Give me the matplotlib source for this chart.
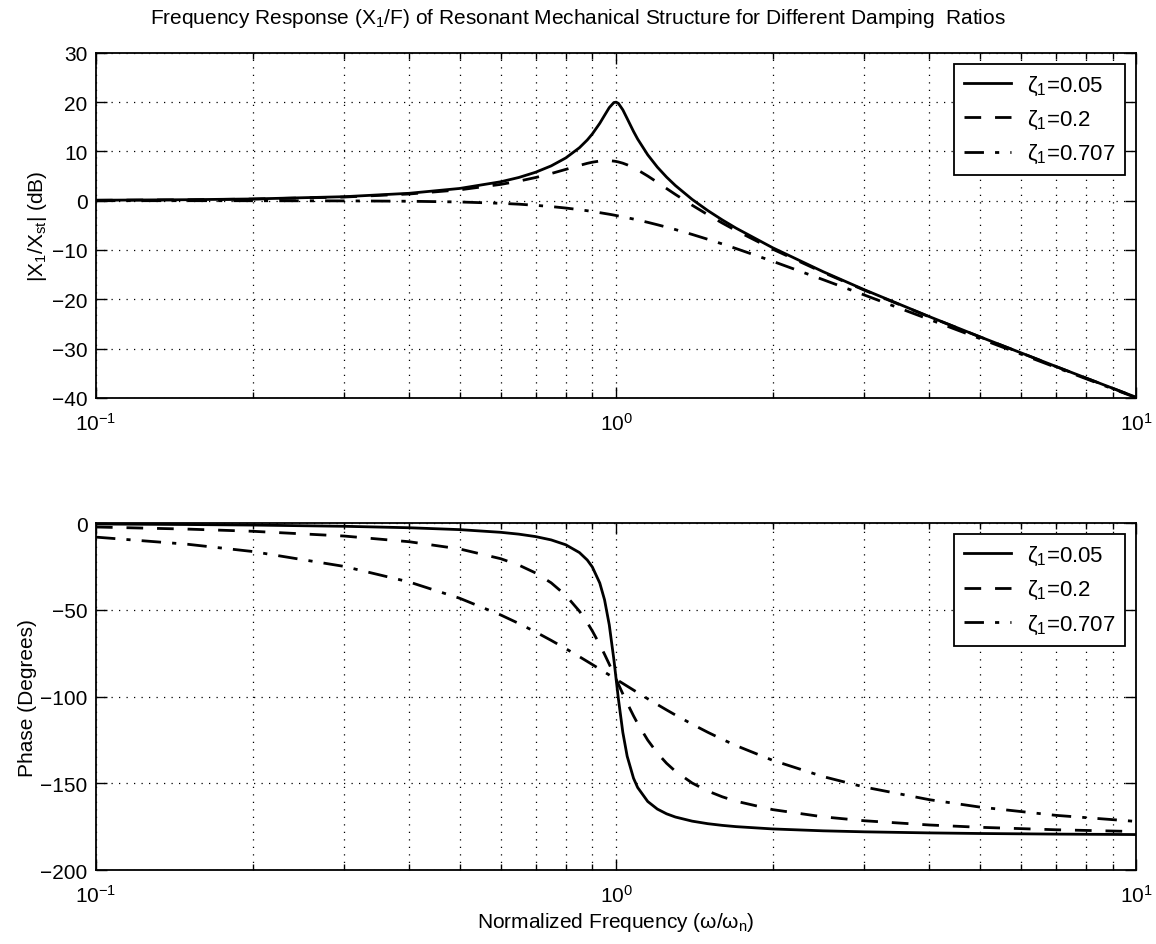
import numpy as np
import matplotlib
matplotlib.use('Agg')
import matplotlib.pyplot as plt
from matplotlib.ticker import LogLocator, NullFormatter

plt.rcParams['font.family'] = ['Liberation Sans', 'DejaVu Sans']
plt.rcParams['mathtext.fontset'] = 'custom'
plt.rcParams['mathtext.rm'] = 'Liberation Sans'
plt.rcParams['mathtext.it'] = 'Liberation Sans'

# normalized frequency (w/wn) where the curves were read
freq = [0.1, 0.15, 0.2, 0.3, 0.4, 0.5, 0.6, 0.65, 0.7, 0.75, 0.8, 0.85, 0.88, 0.9, 0.93,
        0.95, 0.97, 0.99, 1.0, 1.01, 1.03, 1.05, 1.08, 1.1, 1.15, 1.2, 1.25, 1.3, 1.4,
        1.5, 1.6, 1.7, 2.0, 2.5, 3.0, 4.0, 5.0, 7.0, 10.0]

# magnitude |X1/Xst| in dB
mag_005 = [0.09, 0.20, 0.35, 0.81, 1.50, 2.48, 3.84, 4.71, 5.77, 7.06, 8.67, 10.75, 12.32,
           13.55, 15.70, 17.32, 18.89, 19.92, 20.0, 19.75, 18.44, 16.67, 14.05, 12.50,
           9.31, 6.82, 4.79, 3.07, 0.26, -2.00, -3.91, -5.57, -9.56, -14.41, -18.07,
           -23.53, -27.61, -33.63, -39.91]
mag_02 = [0.08, 0.18, 0.33, 0.74, 1.36, 2.20, 3.31, 3.97, 4.70, 5.51, 6.35, 7.15, 7.58,
          7.81, 8.05, 8.13, 8.12, 8.03, 7.96, 7.86, 7.61, 7.28, 6.69, 6.24,
          5.01, 3.73, 2.47, 1.27, -0.92, -2.84, -4.54, -6.06, -9.84, -14.56, -18.16,
          -23.57, -27.63, -33.64, -39.92]
mag_0707 = [0.0, 0.0, -0.01, -0.04, -0.11, -0.26, -0.53, -0.71, -0.94, -1.19, -1.49, -1.82,
            -2.04, -2.19, -2.43, -2.59, -2.75, -2.92, -3.01, -3.10, -3.27, -3.46, -3.73,
            -3.92, -4.39, -4.88, -5.37, -5.86, -6.85, -7.83, -8.78, -9.71, -12.30, -16.03,
            -19.14, -24.10, -27.97, -33.81, -40.0]

# phase in degrees
ph_005 = [-0.58, -0.88, -1.19, -1.89, -2.73, -3.81, -5.36, -6.42, -7.82, -9.73, -12.53,
          -17.03, -21.31, -25.35, -34.54, -44.26, -58.65, -78.64, -90.0, -101.26, -120.59,
          -134.31, -147.0, -152.35, -160.37, -164.74, -167.47, -169.33, -171.70, -173.16,
          -174.14, -174.86, -176.19, -177.27, -177.85, -178.47, -178.81, -179.16, -179.42]
ph_02 = [-2.31, -3.51, -4.76, -7.51, -10.78, -14.93, -20.56, -24.24, -28.77, -34.44,
         -41.63, -50.78, -57.35, -62.18, -70.04, -75.61, -81.34, -87.12, -90.0, -92.85,
         -98.41, -103.71, -111.07, -115.52, -125.04, -132.51, -138.37, -143.0, -149.74,
         -154.36, -157.69, -160.21, -165.07, -169.22, -171.47, -173.91, -175.24, -176.66,
         -177.69]
ph_0707 = [-8.13, -12.24, -16.41, -25.0, -33.96, -43.31, -52.97, -57.86, -62.74, -67.59,
           -72.35, -77.0, -79.73, -81.51, -84.13, -85.85, -87.53, -89.19, -90.0, -90.81,
           -92.39, -93.95, -96.22, -97.69, -101.22, -104.53, -107.65, -110.57, -115.87,
           -120.51, -124.58, -128.18, -136.69, -146.04, -152.06, -159.34, -163.59, -168.35,
           -171.87]

labels = [r'$\zeta_1$=0.05', r'$\zeta_1$=0.2', r'$\zeta_1$=0.707']
styles = ['-', (0, (6, 5)), (0, (7, 4, 1.5, 4))]

fig = plt.figure(figsize=(11.56, 9.45), dpi=100)
ax1 = fig.add_axes([0.083, 0.578, 0.900, 0.365])
ax2 = fig.add_axes([0.083, 0.078, 0.900, 0.3675])


def style_axis(ax):
    ax.set_xscale('log')
    ax.set_xlim(0.1, 10)
    ax.xaxis.set_minor_locator(LogLocator(base=10, subs=np.arange(2, 10)))
    ax.xaxis.set_minor_formatter(NullFormatter())
    ax.grid(True, which='major', axis='both', color='black', linestyle=(0, (1, 5)), linewidth=0.9)
    ax.grid(True, which='minor', axis='x', color='black', linestyle=(0, (1, 5)), linewidth=0.9)
    ax.tick_params(which='both', direction='in', top=True, right=True, labelsize=15)
    ax.tick_params(which='major', length=8, width=1)
    ax.tick_params(which='minor', length=4, width=1)
    ax.tick_params(axis='x', which='major', pad=10)
    ax.tick_params(axis='y', which='major', pad=6)
    for s in ax.spines.values():
        s.set_linewidth(1.3)


for y, st, lab in zip([mag_005, mag_02, mag_0707], styles, labels):
    ax1.plot(freq, y, color='black', linestyle=st, linewidth=2, label=lab)
style_axis(ax1)
ax1.set_ylim(-40, 30)
ax1.set_yticks(np.arange(-40, 31, 10))
ax1.set_ylabel(r'|X$_1$/X$_{\rm st}$| (dB)', fontsize=15, labelpad=2)
fig.text(0.5, 1 - 19 / 945,
         r'Frequency Response (X$_1$/F) of Resonant Mechanical Structure for Different Damping  Ratios',
         fontsize=15, ha='center', va='center')

for y, st, lab in zip([ph_005, ph_02, ph_0707], styles, labels):
    ax2.plot(freq, y, color='black', linestyle=st, linewidth=2, label=lab)
style_axis(ax2)
ax2.set_ylim(-200, 0)
ax2.set_yticks(np.arange(-200, 1, 50))
ax2.set_ylabel('Phase (Degrees)', fontsize=15, labelpad=2)
ax2.set_xlabel(r'Normalized Frequency ($\omega$/$\omega_{\rm n}$)', fontsize=15, labelpad=3)

for ax in (ax1, ax2):
    leg = ax.legend(loc='upper right', fontsize=16, frameon=True, fancybox=False,
                    edgecolor='black', framealpha=1, handlelength=2.1, handletextpad=0.7,
                    borderaxespad=0.5, labelspacing=0.5, borderpad=0.45)
    leg.get_frame().set_linewidth(1.3)

fig.savefig('out.png', dpi=100)
